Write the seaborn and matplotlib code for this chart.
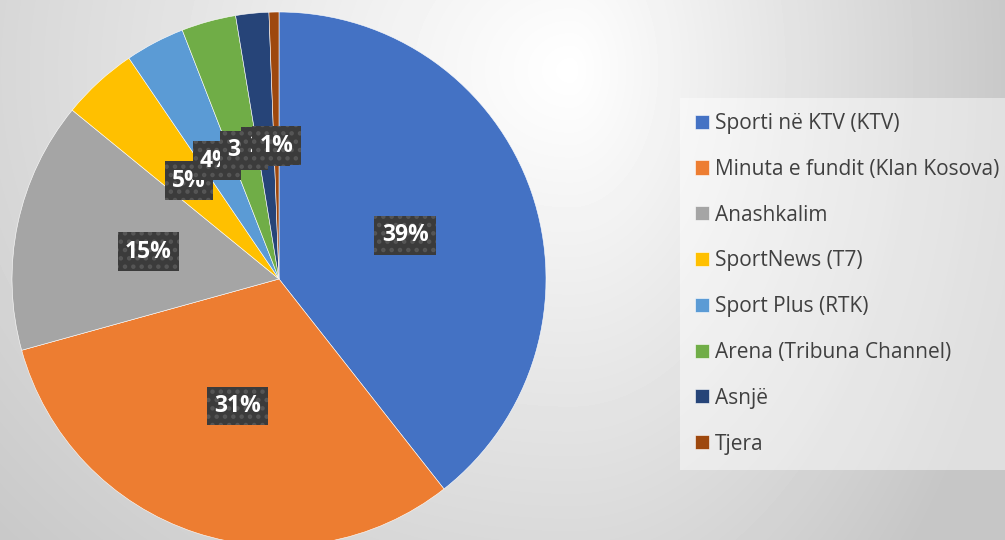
import numpy as np
import matplotlib.pyplot as plt
import seaborn as sns

categories = [
    "Sporti në KTV (KTV)",
    "Minuta e fundit (Klan Kosova)",
    "Anashkalim",
    "SportNews (T7)",
    "Sport Plus (RTK)",
    "Arena (Tribuna Channel)",
    "Asnjë",
    "Tjera",
]
shares = [39.4, 31.3, 15.2, 4.6, 3.6, 3.3, 2.0, 0.6]
colors = ["#4472C4", "#ED7D31", "#A5A5A5", "#FFC000",
          "#5B9BD5", "#70AD47", "#264478", "#9E480E"]

sns.set_theme(style="white")
plt.rcParams["font.family"] = ["Open Sans", "DejaVu Sans"]
plt.rcParams["hatch.linewidth"] = 2.0

fig = plt.figure(figsize=(10.05, 5.4), dpi=100)

# soft grey background gradient, lightest in the upper middle
bg = fig.add_axes([0, 0, 1, 1], zorder=0)
yy, xx = np.mgrid[0:540, 0:1005]
dx = xx - 570.0
dy = yy - 70.0
dx = np.where(dx > 0, dx * 0.125, dx * 0.07)
d = np.sqrt(dx ** 2 + (dy * 0.08) ** 2)
v = np.clip(255 - d, 198, 255) / 255
bg.imshow(v, cmap="gray", vmin=0, vmax=1, aspect="auto", interpolation="bilinear")
bg.axis("off")

# pie
ax = fig.add_axes([12 / 1005, (540 - 279 - 267) / 540, 534 / 1005, 534 / 540], zorder=1)
wedges, texts, autotexts = ax.pie(
    shares,
    colors=sns.color_palette(colors),
    startangle=90,
    counterclock=False,
    autopct="%.0f%%",
    pctdistance=0.5,
    wedgeprops=dict(edgecolor="white", linewidth=0.4),
)
ax.set_xlim(-1, 1)
ax.set_ylim(-1, 1)

for t in autotexts:
    t.set_color("white")
    t.set_fontsize(16.5)
    t.set_fontweight("bold")
    t.set_bbox(dict(boxstyle="square,pad=0.32", facecolor="#3b3b3b",
                    edgecolor="#565656", linewidth=0, hatch=".."))

leg = fig.legend(
    wedges, categories,
    loc="upper left",
    bbox_to_anchor=(680 / 1005, 1 - 98 / 540),
    fontsize=15,
    labelcolor="#404040",
    frameon=True,
    fancybox=False,
    handlelength=0.66,
    handleheight=0.66,
    handletextpad=0.3,
    labelspacing=1.19,
    borderpad=0.72,
    borderaxespad=0,
)
frame = leg.get_frame()
frame.set_facecolor("white")
frame.set_alpha(0.45)
frame.set_edgecolor("none")

fig.savefig("out.png", dpi=100)
